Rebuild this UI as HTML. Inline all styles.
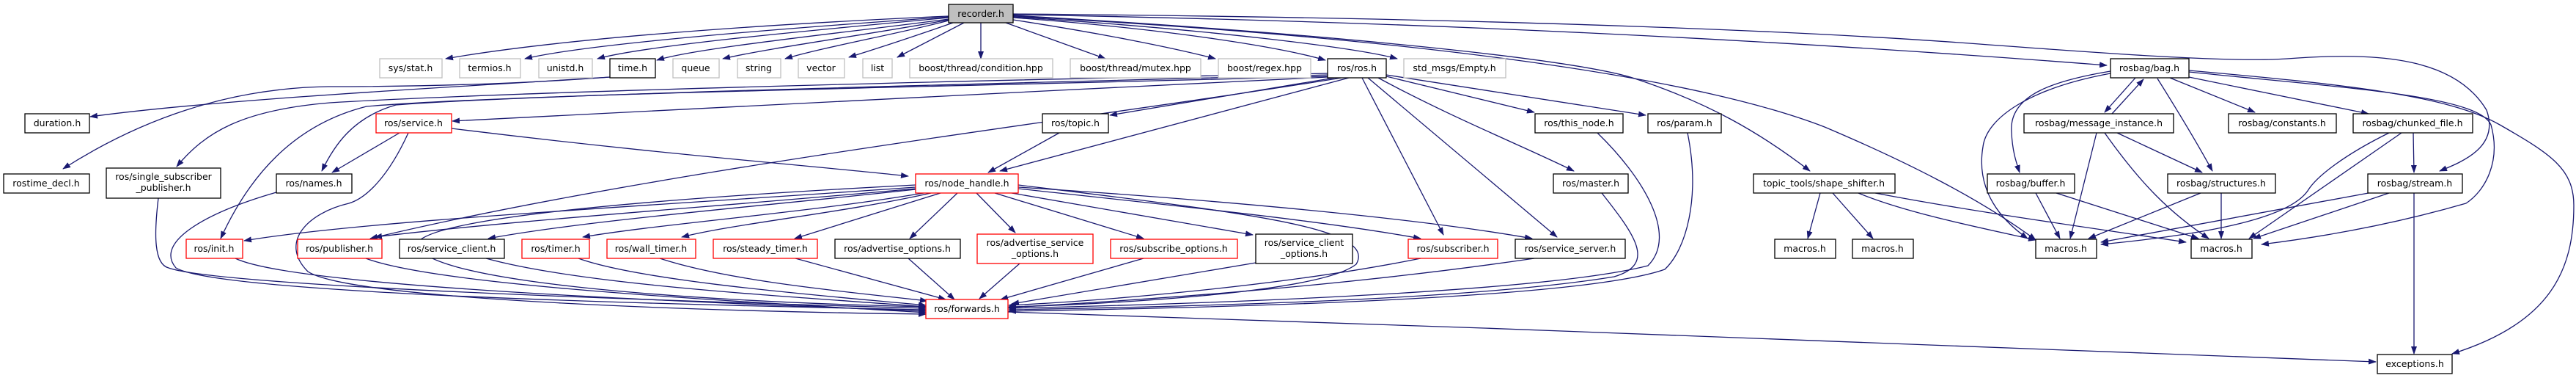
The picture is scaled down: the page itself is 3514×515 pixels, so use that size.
<!DOCTYPE html>
<html><head><meta charset="utf-8"><style>
html,body{margin:0;padding:0;background:#fff;}
svg{display:block;}
text{font-family:"DejaVu Sans","Liberation Sans",sans-serif;font-size:12.5px;fill:#000;text-anchor:middle;}
.b{fill:#fff;stroke:#000;stroke-width:1.3}
.r{fill:#fff;stroke:#ff0000;stroke-width:1.3}
.g{fill:#fff;stroke:#bfbfbf;stroke-width:1.3}
.e{fill:none;stroke:#191970;stroke-width:1.3;marker-end:url(#a)}
</style></head><body>
<svg width="3514" height="515" viewBox="0 0 3514 515" xmlns="http://www.w3.org/2000/svg">
<defs><marker id="a" markerWidth="11" markerHeight="8" refX="10" refY="4" orient="auto" markerUnits="userSpaceOnUse"><path d="M0,0 L11,4 L0,8 z" fill="#191970"/></marker></defs>
<g>
<!-- recorder edges -->
<path class="e" d="M1294,22 C1000,35 750,55 608,80"/>
<path class="e" d="M1294,23 C1050,40 800,60 716,80"/>
<path class="e" d="M1294,24 C1100,42 880,62 815,80"/>
<path class="e" d="M1294,26 C1150,45 950,65 896,82"/>
<path class="e" d="M1294,27 C1200,45 1050,65 986,80"/>
<path class="e" d="M1294,28 C1230,45 1120,65 1071,80"/>
<path class="e" d="M1300,31 C1260,45 1200,65 1158,78"/>
<path class="e" d="M1315,31 L1224,78"/>
<path class="e" d="M1338,31 L1338,80"/>
<path class="e" d="M1372,31 L1508,80"/>
<path class="e" d="M1382,27 C1500,45 1600,65 1658,80"/>
<path class="e" d="M1382,24 C1600,40 1750,65 1808,82"/>
<path class="e" d="M1382,23 C1650,40 1850,65 1906,80"/>
<path class="e" d="M1382,20 C2000,30 2500,60 2874,89"/>
<path class="e" d="M1382,19 C2100,25 2500,45 2700,60 C2900,75 3050,85 3120,80 C3250,70 3350,80 3392,150 C3410,200 3360,220 3328,233"/>
<path class="e" d="M1382,21 C1800,45 2150,80 2230,107 C2330,140 2400,180 2469,233"/>
<path class="e" d="M1382,22 C1900,50 2300,100 2489,173 C2600,220 2700,270 2777,327"/>
<!-- time.h / ros.h leftward -->
<path class="e" d="M832,105 C600,120 300,135 123,159"/>
<path class="e" d="M832,105 C700,115 560,118 448,118 C300,120 180,170 86,230"/>
<path class="e" d="M1811,100 C1300,110 700,125 450,140 C330,150 280,180 241,227"/>
<path class="e" d="M1811,102 C1300,115 700,130 540,143 C480,160 455,200 439,233"/>
<path class="e" d="M1811,104 C1300,118 700,128 500,145 C400,170 340,240 301,325"/>
<path class="e" d="M1811,105 C1400,125 900,150 617,165"/>
<path class="e" d="M1830,106 C1500,160 900,230 505,325"/>
<path class="e" d="M1840,106 L1364,233"/>
<path class="e" d="M1820,106 L1514,157"/>
<path class="e" d="M1891,104 L2093,153"/>
<path class="e" d="M1891,102 L2245,157"/>
<path class="e" d="M1880,106 C1980,160 2080,200 2147,233"/>
<path class="e" d="M1858,106 L1969,320"/>
<path class="e" d="M1866,106 L2124,323"/>
<!-- service.h -->
<path class="e" d="M616,175 C900,210 1100,225 1239,240"/>
<path class="e" d="M545,181 L453,235"/>
<path class="e" d="M557,181 C530,240 500,270 476,277 C420,290 380,330 420,370 C480,410 1000,425 1263,428"/>
<path class="e" d="M1445,181 L1348,235"/>
<!-- to forwards -->
<path class="e" d="M377,262 C280,290 210,330 240,365 C300,400 900,415 1263,422"/>
<path class="e" d="M216,270 C210,320 210,360 230,365 C300,390 900,410 1263,420"/>
<path class="e" d="M321,352 C400,390 900,410 1263,424"/>
<path class="e" d="M499,352 C600,390 1000,410 1263,426"/>
<path class="e" d="M663,352 C800,390 1100,405 1263,418"/>
<path class="e" d="M789,352 C880,385 1150,405 1263,416"/>
<path class="e" d="M900,352 C1000,385 1180,400 1265,410"/>
<path class="e" d="M1085,352 L1290,408"/>
<path class="e" d="M1239,352 L1302,408"/>
<path class="e" d="M1391,359 L1336,407"/>
<path class="e" d="M1560,352 L1365,408"/>
<path class="e" d="M1713,358 L1380,414"/>
<path class="e" d="M1938,352 C1750,390 1500,410 1376,416"/>
<path class="e" d="M2093,352 C1800,395 1500,412 1376,419"/>
<path class="e" d="M2185,263 C2230,320 2260,360 2202,377 C2000,410 1600,418 1376,422"/>
<path class="e" d="M2179,181 C2240,240 2290,320 2248,362 C2100,400 1600,415 1376,420"/>
<path class="e" d="M2302,181 C2320,270 2300,340 2271,367 C2150,410 1600,420 1376,424"/>
<path class="e" d="M1249,252 C1000,265 600,290 570,330 C560,380 900,410 1263,418"/>
<path class="e" d="M1389,252 C1700,290 1880,310 1850,360 C1800,400 1500,415 1376,418"/>
<path class="e" d="M1375,425 C2000,445 2800,475 3241,493"/>
<!-- node_handle outgoing -->
<path class="e" d="M1249,255 C900,280 500,300 333,328"/>
<path class="e" d="M1249,257 C1000,280 700,300 511,323"/>
<path class="e" d="M1249,258 C1050,280 800,300 666,325"/>
<path class="e" d="M1260,263 C1100,290 900,305 795,323"/>
<path class="e" d="M1270,263 C1150,290 1000,305 930,323"/>
<path class="e" d="M1283,263 L1084,325"/>
<path class="e" d="M1306,263 L1241,325"/>
<path class="e" d="M1332,263 L1385,317"/>
<path class="e" d="M1357,263 L1560,325"/>
<path class="e" d="M1380,263 L1709,320"/>
<path class="e" d="M1389,257 C1600,280 1800,300 1938,325"/>
<path class="e" d="M1389,255 C1700,275 1950,300 2090,325"/>
<!-- shape_shifter -->
<path class="e" d="M2483,263 L2466,325"/>
<path class="e" d="M2500,263 L2555,325"/>
<path class="e" d="M2558,263 C2700,290 2850,310 2982,330"/>
<path class="e" d="M2535,263 C2600,290 2700,310 2777,327"/>
<!-- rosbag -->
<path class="e" d="M2913,106 L2871,153"/>
<path class="e" d="M2881,155 L2924,108"/>
<path class="e" d="M2960,106 L3076,153"/>
<path class="e" d="M2986,105 L3231,155"/>
<path class="e" d="M2943,107 C2970,150 3000,200 3018,233"/>
<path class="e" d="M2879,97 C2800,110 2740,130 2744,180 C2745,205 2750,220 2755,235"/>
<path class="e" d="M2879,100 C2770,120 2710,160 2705,200 C2695,260 2730,300 2766,325"/>
<path class="e" d="M2986,98 C3200,120 3380,130 3398,170 C3412,220 3390,260 3364,277 C3250,310 3150,325 3085,333"/>
<path class="e" d="M2986,96 C3200,115 3340,130 3410,170 C3480,210 3511,230 3511,280 C3511,367 3480,440 3345,482"/>
<path class="e" d="M2860,181 L2824,325"/>
<path class="e" d="M2888,181 L3004,235"/>
<path class="e" d="M2871,181 C2920,250 2960,290 3013,325"/>
<path class="e" d="M2777,263 L2810,325"/>
<path class="e" d="M2805,263 L2999,325"/>
<path class="e" d="M3002,263 L2849,325"/>
<path class="e" d="M3030,263 L3030,325"/>
<path class="e" d="M3292,181 L3293,235"/>
<path class="e" d="M3259,181 C3200,210 3160,240 3148,260 C3120,300 3000,320 2866,333"/>
<path class="e" d="M3276,181 L3068,325"/>
<path class="e" d="M3231,263 L2866,330"/>
<path class="e" d="M3259,263 L3074,325"/>
<path class="e" d="M3293,263 L3293,482"/>
</g>
<!-- nodes -->
<rect x="1294" y="6" width="88" height="25" fill="#bfbfbf" stroke="#000" stroke-width="1.3"/><text x="1338" y="23">recorder.h</text>
<rect class="g" x="518" y="80" width="85" height="26"/><text x="560" y="97">sys/stat.h</text>
<rect class="g" x="627" y="80" width="83" height="26"/><text x="668" y="97">termios.h</text>
<rect class="g" x="735" y="80" width="73" height="26"/><text x="771" y="97">unistd.h</text>
<rect class="b" x="832" y="80" width="62" height="26"/><text x="863" y="97">time.h</text>
<rect class="g" x="918" y="80" width="63" height="26"/><text x="949" y="97">queue</text>
<rect class="g" x="1006" y="80" width="59" height="26"/><text x="1035" y="97">string</text>
<rect class="g" x="1089" y="80" width="63" height="26"/><text x="1120" y="97">vector</text>
<rect class="g" x="1177" y="80" width="40" height="26"/><text x="1197" y="97">list</text>
<rect class="g" x="1241" y="80" width="195" height="26"/><text x="1338" y="97">boost/thread/condition.hpp</text>
<rect class="g" x="1460" y="80" width="178" height="26"/><text x="1549" y="97">boost/thread/mutex.hpp</text>
<rect class="g" x="1662" y="80" width="126" height="26"/><text x="1725" y="97">boost/regex.hpp</text>
<rect class="b" x="1811" y="80" width="80" height="26"/><text x="1851" y="97">ros/ros.h</text>
<rect class="g" x="1915" y="80" width="139" height="26"/><text x="1984" y="97">std_msgs/Empty.h</text>
<rect class="b" x="2879" y="80" width="107" height="26"/><text x="2932" y="97">rosbag/bag.h</text>

<rect class="b" x="34" y="155" width="88" height="26"/><text x="78" y="172">duration.h</text>
<rect class="r" x="513" y="155" width="103" height="26"/><text x="564" y="172">ros/service.h</text>
<rect class="b" x="1422" y="155" width="90" height="26"/><text x="1467" y="172">ros/topic.h</text>
<rect class="b" x="2094" y="155" width="120" height="26"/><text x="2154" y="172">ros/this_node.h</text>
<rect class="b" x="2248" y="155" width="100" height="26"/><text x="2298" y="172">ros/param.h</text>
<rect class="b" x="2761" y="155" width="204" height="26"/><text x="2863" y="172">rosbag/message_instance.h</text>
<rect class="b" x="3040" y="155" width="147" height="26"/><text x="3113" y="172">rosbag/constants.h</text>
<rect class="b" x="3210" y="155" width="163" height="26"/><text x="3291" y="172">rosbag/chunked_file.h</text>

<rect class="b" x="5" y="237" width="117" height="26"/><text x="63" y="254">rostime_decl.h</text>
<rect class="b" x="145" y="229" width="156" height="41"/><text x="223" y="245">ros/single_subscriber</text><text x="223" y="260">_publisher.h</text>
<rect class="b" x="377" y="237" width="103" height="26"/><text x="428" y="254">ros/names.h</text>
<rect class="r" x="1249" y="237" width="140" height="26"/><text x="1319" y="254">ros/node_handle.h</text>
<rect class="b" x="2119" y="237" width="102" height="26"/><text x="2170" y="254">ros/master.h</text>
<rect class="b" x="2392" y="237" width="193" height="26"/><text x="2488" y="254">topic_tools/shape_shifter.h</text>
<rect class="b" x="2711" y="237" width="119" height="26"/><text x="2770" y="254">rosbag/buffer.h</text>
<rect class="b" x="2957" y="237" width="147" height="26"/><text x="3030" y="254">rosbag/structures.h</text>
<rect class="b" x="3230" y="237" width="129" height="26"/><text x="3294" y="254">rosbag/stream.h</text>

<rect class="r" x="254" y="326" width="77" height="26"/><text x="292" y="343">ros/init.h</text>
<rect class="r" x="406" y="326" width="115" height="26"/><text x="463" y="343">ros/publisher.h</text>
<rect class="b" x="545" y="326" width="143" height="26"/><text x="616" y="343">ros/service_client.h</text>
<rect class="r" x="712" y="326" width="92" height="26"/><text x="758" y="343">ros/timer.h</text>
<rect class="r" x="828" y="326" width="121" height="26"/><text x="888" y="343">ros/wall_timer.h</text>
<rect class="r" x="973" y="326" width="142" height="26"/><text x="1044" y="343">ros/steady_timer.h</text>
<rect class="b" x="1139" y="326" width="171" height="26"/><text x="1224" y="343">ros/advertise_options.h</text>
<rect class="r" x="1333" y="319" width="158" height="40"/><text x="1412" y="335">ros/advertise_service</text><text x="1412" y="350">_options.h</text>
<rect class="r" x="1515" y="326" width="173" height="26"/><text x="1601" y="343">ros/subscribe_options.h</text>
<rect class="b" x="1713" y="319" width="132" height="40"/><text x="1779" y="335">ros/service_client</text><text x="1779" y="350">_options.h</text>
<rect class="r" x="1921" y="326" width="122" height="26"/><text x="1982" y="343">ros/subscriber.h</text>
<rect class="b" x="2067" y="326" width="150" height="26"/><text x="2142" y="343">ros/service_server.h</text>
<rect class="b" x="2421" y="326" width="83" height="26"/><text x="2462" y="343">macros.h</text>
<rect class="b" x="2527" y="326" width="83" height="26"/><text x="2568" y="343">macros.h</text>
<rect class="b" x="2777" y="326" width="83" height="26"/><text x="2818" y="343">macros.h</text>
<rect class="b" x="2989" y="326" width="83" height="26"/><text x="3030" y="343">macros.h</text>

<rect class="r" x="1263" y="408" width="112" height="26"/><text x="1319" y="425">ros/forwards.h</text>
<rect class="b" x="3243" y="483" width="102" height="26"/><text x="3294" y="500">exceptions.h</text>
</svg>
</body></html>
